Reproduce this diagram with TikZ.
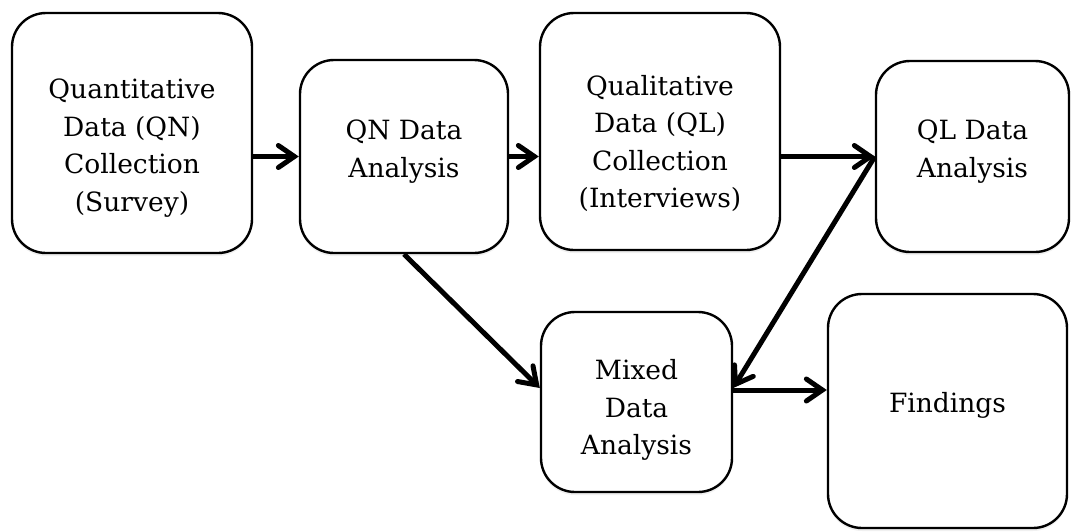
\documentclass[tikz,border=0pt]{standalone}
\usepackage{fontspec}
\setmainfont{DejaVu Serif}
\usetikzlibrary{arrows.meta, positioning, shadows}
\tikzset{>={Straight Barb[length=8pt,width=11pt,line cap=round]}}

\begin{document}
\begin{tikzpicture}[x=0.5pt, y=-0.5pt,
    box/.style={draw, line width=1.2pt, rounded corners=17pt, fill=white,
        drop shadow={opacity=0.12, shadow xshift=0pt, shadow yshift=-1.5pt}},
    lbl/.style={align=center, font=\fontsize{13.25}{18.75}\selectfont},
    flow/.style={->, line width=2.5pt}]
    \useasboundingbox (0,0) rectangle (1071,531);

    % name/centre x/centre y/width/height/text shift (pt)/text
    \foreach \nm/\cx/\cy/\bw/\bh/\tdy/\txt in {
        qnc/132/133/240/240/-7.5/{Quantitative\\Data (QN)\\Collection\\(Survey)},
        qna/404/156.5/208/193/2.5/{QN Data\\Analysis},
        qlc/660/131.5/240/237/-6/{Qualitative\\Data (QL)\\Collection\\(Interviews)},
        qla/972.5/156.5/193/191/2.5/{QL Data\\Analysis},
        mix/636.5/402/191/180/-4/{Mixed\\Data\\Analysis},
        fnd/947.5/411/239/234/3/{Findings}}
    {
        \node[box, minimum width=\bw*0.5pt, minimum height=\bh*0.5pt] (\nm) at (\cx,\cy) {};
        \node[lbl] (\nm-t) at ([yshift=\tdy pt]\nm.center) {\txt};
    }

    % top row
    \draw[flow] (qnc.east |- qna.west) -- (qna.west);
    \draw[flow] (qna.east) -- (qlc.west |- qna.east);
    \draw[flow] (qlc.east |- qla.west) -- (qla.west);

    % into and out of the mixed analysis
    \draw[flow] (qna.south) -- ([yshift=7pt]mix.west);
    \draw[flow] (qla.west) -- ([yshift=7pt]mix.east);
    \draw[flow] ([yshift=6pt]mix.east) -- ([yshift=6pt]mix.east -| fnd.west);
\end{tikzpicture}
\end{document}
